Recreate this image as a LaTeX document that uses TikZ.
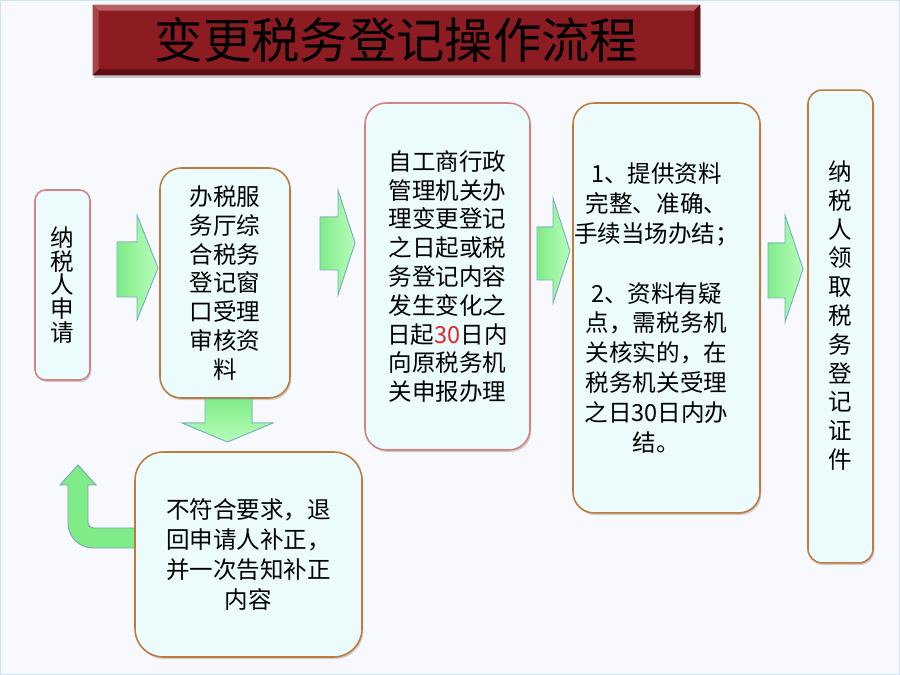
\documentclass[tikz,border=0pt]{standalone}
\usepackage{fontspec}
\setmainfont{Noto Sans CJK SC}
\usepackage{xcolor}
\usepackage{tikz}
\usetikzlibrary{shadows,calc,backgrounds}
\definecolor{PageBg}{RGB}{248,249,253}
\definecolor{PageEdge}{RGB}{205,225,248}
\definecolor{TitleRed}{RGB}{140,28,34}
\definecolor{TitleLight}{RGB}{184,96,100}
\definecolor{TitleMid}{RGB}{165,70,74}
\definecolor{TitleDark}{RGB}{92,14,18}
\definecolor{BoxFill}{RGB}{236,252,252}
\definecolor{EdgePink}{RGB}{208,132,132}
\definecolor{EdgeBrown}{RGB}{188,124,64}
\definecolor{FlowGreen}{RGB}{128,236,136}
\definecolor{FlowLight}{RGB}{184,252,186}
\definecolor{FlowEdge}{RGB}{120,175,200}
\definecolor{NumRed}{RGB}{220,40,40}

\begin{document}
\begin{tikzpicture}[
  x=0.02cm, y=-0.02cm,
  box/.style={rectangle, rounded corners=12pt, fill=BoxFill, draw=EdgeBrown, line width=0.9pt,
              inner sep=0pt, font=\fontsize{13.4}{16.4}\selectfont,
              drop shadow={shadow xshift=0.8pt, shadow yshift=-1.2pt, opacity=0.35}},
  pinkbox/.style={box, draw=EdgePink},
  flow/.style={draw=FlowEdge, line width=0.5pt, left color=FlowGreen, right color=FlowLight},
  uturn/.style={fill=FlowGreen, draw=FlowEdge!70!gray, line width=0.5pt},
  banner/.style={rectangle, fill=TitleRed, minimum width=12.14cm, minimum height=1.4cm,
                 font=\fontsize{27.5}{30}\selectfont, text=black,
                 drop shadow={shadow xshift=0.6pt, shadow yshift=-1.5pt, opacity=0.4}}
]
\useasboundingbox (0,0) rectangle (900,675);
\begin{scope}[on background layer]
  \draw[PageEdge, fill=PageBg, line width=1.2pt] (0,0) rectangle (900,675);
\end{scope}

% title
\node[banner] (title) at (396.5,40) {变更税务登记操作流程};
\fill[TitleLight] (title.north west) -- (title.north east) -- ($(title.north east)+(-6,6)$) -- ($(title.north west)+(6,6)$) -- cycle;
\fill[TitleMid] (title.north west) -- ($(title.north west)+(6,6)$) -- ($(title.south west)+(6,-6)$) -- (title.south west) -- cycle;
\fill[TitleDark] (title.south west) -- ($(title.south west)+(6,-6)$) -- ($(title.south east)+(-6,-6)$) -- (title.south east) -- cycle;
\fill[TitleDark!80!TitleRed] (title.north east) -- (title.south east) -- ($(title.south east)+(-6,-6)$) -- ($(title.north east)+(-6,6)$) -- cycle;

% steps
\node[pinkbox, rounded corners=6pt, minimum width=1.1cm, minimum height=3.8cm, align=center,
      font=\fontsize{13.4}{13.6}\selectfont] (apply) at (62.5,285) {纳\\税\\人\\申\\请};
\node[box, minimum width=2.6cm, minimum height=4.6cm, align=center] (window) at (225,283)
  {办税服\\务厅综\\合税务\\登记窗\\口受理\\审核资\\料};
\node[pinkbox, minimum width=3.3cm, minimum height=6.94cm, align=center] (deadline) at (447.5,276.5)
  {自工商行政\\管理机关办\\理变更登记\\之日起或税\\务登记内容\\发生变化之\\日起\textcolor{NumRed}{30}日内\\向原税务机\\关申报办理};
\node[box, minimum width=3.74cm, minimum height=8.2cm, font=\fontsize{13.4}{17}\selectfont] (handle) at (666.5,308)
  {\parbox{3.3cm}{\centering 1、提供资料\\完整、准确、\\手续当场办结；\\[17pt]2、资料有疑\\点，需税务机\\关核实的，在\\税务机关受理\\之日30日内办\\结。}\kern0.4cm};
\node[box, rounded corners=8pt, minimum width=1.3cm, minimum height=9.46cm] (collect) at (840.5,326.5)
  {\parbox{1cm}{\centering 纳\\税\\人\\领\\取\\税\\务\\登\\记\\证\\件\par\vspace*{0.44cm}}};
\node[box, rounded corners=16pt, minimum width=4.54cm, minimum height=4.1cm, align=center,
      font=\fontsize{13.4}{17}\selectfont] (reject) at (248.5,554.5)
  {不符合要求，退\\回申请人补正，\\并一次告知补正\\内容};

% block arrows
\filldraw[flow] (117,242) -- (137,242) -- (137,215) -- (158,268) -- (137,320) -- (137,297) -- (117,297) -- cycle;
\filldraw[flow] (320,217) -- (338,217) -- (338,190) -- (355,243) -- (338,295) -- (338,270) -- (320,270) -- cycle;
\filldraw[flow] (537,227) -- (553,227) -- (553,198) -- (570,251) -- (553,303) -- (553,280) -- (537,280) -- cycle;
\filldraw[flow] (768,243) -- (785,243) -- (785,215) -- (803,269) -- (785,322) -- (785,298) -- (768,298) -- cycle;
\filldraw[flow, top color=FlowGreen, bottom color=FlowLight]
  (205,399) -- (205,423) -- (182,423) -- (227.5,442) -- (273,423) -- (252,423) -- (252,399) -- cycle;

% back to the applicant
\coordinate (back) at (78,465);
\begin{scope}[on background layer]
  \filldraw[uturn] ($(reject.west)+(4,-26.5)$) [rounded corners=3pt] -- (88,528) [sharp corners] -- (88,485)
    -- (96,485) -- (back) -- (60,485) -- (68,485) [rounded corners=0.5cm] -- (68,548) [sharp corners]
    -- ($(reject.west)+(4,-6.5)$) -- cycle;
\end{scope}
\end{tikzpicture}
\end{document}
